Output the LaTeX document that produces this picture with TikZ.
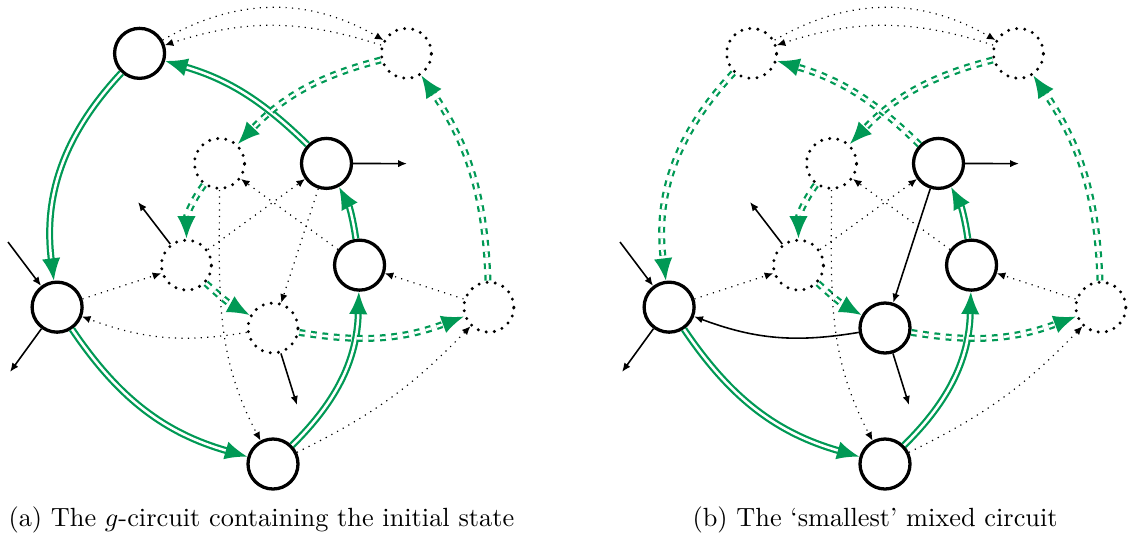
\documentclass[tikz,border=0pt]{standalone}
\usetikzlibrary{arrows.meta}
\definecolor{gr}{RGB}{0,153,85}
\tikzset{
 solidst/.style={circle, draw, line width=1.25pt, minimum size=19pt, inner sep=0pt},
 dotst/.style={circle, draw, line width=1.25pt, minimum size=19pt, inner sep=0pt, dash pattern=on 0pt off 3.12pt, line cap=round},
 gs/.style={draw=gr, double=white, line width=0.85pt, double distance=0.95pt, -{Latex[length=8.5pt,width=7pt]}},
 gd/.style={gs, dash pattern=on 2.2pt off 2.2pt},
 dt/.style={line width=0.45pt, dotted, -{Latex[length=3.2pt,width=2.8pt]}},
 sl/.style={line width=0.6pt, -{Latex[length=3.4pt,width=2.8pt]}},
}
\begin{document}
\begin{tikzpicture}[x=0.38pt,y=0.38pt]
\useasboundingbox (0,0) rectangle (1129,-539);
% ---------- panel (a)
\begin{scope}[shift={(273,-237)}]
\node[solidst] (aA) at (126:227) {};
\node[dotst]   (aB) at (54:227) {};
\node[dotst]   (aI) at (-18:227) {};
\node[solidst] (aJ) at (-90:227) {};
\node[solidst] (aG) at (-162:227) {};
\node[dotst]   (aC) at (126:91) {};
\node[solidst] (aD) at (54:91) {};
\node[solidst] (aF) at (-18:91) {};
\node[dotst]   (aH) at (-90:91) {};
\node[dotst]   (aE) at (-162:91) {};
\coordinate (aginp) at (-265,-5);
\coordinate (agout) at (-263,-135);
\coordinate (aeout) at (-135,35);
\coordinate (adout) at (134,73.4);
\coordinate (ahout) at (24,-168);
\end{scope}
\draw[gs] (aA) to[bend right=25] (aG);
\draw[gs] (aG) to[bend right=20] (aJ);
\draw[gs] (aJ) to[bend right=22] (aF);
\draw[gs] (aF) to[bend right=10] (aD);
\draw[gs] (aD) to[bend right=14] (aA);
\draw[gd] (aB) to[bend right=16] (aC);
\draw[gd] (aC) to[bend right=18] (aE);
\draw[gd] (aE) to[bend right=7] (aH);
\draw[gd] (aH) to[bend right=15] (aI);
\draw[gd] (aI) to[bend right=16] (aB);
\draw[dt] (aA) to[bend left=30] (aB);
\draw[dt] (aB) to[bend right=18] (aA);
\draw[dt] (aG) -- (aE);
\draw[dt] (aH) to[bend left=15] (aG);
\draw[dt] (aC) to[out=-90,in=118] (aJ);
\draw[dt] (aE) -- (aD);
\draw[dt] (aF) -- (aC);
\draw[dt] (aD) -- (aH);
\draw[dt] (aI) -- (aF);
\draw[dt] (aJ) to[bend right=10] (aI);
\draw[sl] (aginp) -- (aG);
\draw[sl] (aG) -- (agout);
\draw[sl] (aE) -- (aeout);
\draw[sl] (aD) -- (adout);
\draw[sl] (aH) -- (ahout);
% ---------- panel (b)
\begin{scope}[shift={(885,-237)}]
\node[dotst]   (bA) at (126:227) {};
\node[dotst]   (bB) at (54:227) {};
\node[dotst]   (bI) at (-18:227) {};
\node[solidst] (bJ) at (-90:227) {};
\node[solidst] (bG) at (-162:227) {};
\node[dotst]   (bC) at (126:91) {};
\node[solidst] (bD) at (54:91) {};
\node[solidst] (bF) at (-18:91) {};
\node[solidst] (bH) at (-90:91) {};
\node[dotst]   (bE) at (-162:91) {};
\coordinate (bginp) at (-265,-5);
\coordinate (bgout) at (-263,-135);
\coordinate (beout) at (-135,35);
\coordinate (bdout) at (134,73.4);
\coordinate (bhout) at (24,-168);
\end{scope}
\draw[gd] (bA) to[bend right=25] (bG);
\draw[gs] (bG) to[bend right=20] (bJ);
\draw[gs] (bJ) to[bend right=22] (bF);
\draw[gs] (bF) to[bend right=10] (bD);
\draw[gd] (bD) to[bend right=14] (bA);
\draw[gd] (bB) to[bend right=16] (bC);
\draw[gd] (bC) to[bend right=18] (bE);
\draw[gd] (bE) to[bend right=7] (bH);
\draw[gd] (bH) to[bend right=15] (bI);
\draw[gd] (bI) to[bend right=16] (bB);
\draw[dt] (bA) to[bend left=30] (bB);
\draw[dt] (bB) to[bend right=18] (bA);
\draw[dt] (bG) -- (bE);
\draw[sl] (bH) to[bend left=15] (bG);
\draw[dt] (bC) to[out=-90,in=118] (bJ);
\draw[dt] (bE) -- (bD);
\draw[dt] (bF) -- (bC);
\draw[sl] (bD) -- (bH);
\draw[dt] (bI) -- (bF);
\draw[dt] (bJ) to[bend right=10] (bI);
\draw[sl] (bginp) -- (bG);
\draw[sl] (bG) -- (bgout);
\draw[sl] (bE) -- (beout);
\draw[sl] (bD) -- (bdout);
\draw[sl] (bH) -- (bhout);
% captions
\node[anchor=base west, inner sep=0pt] (capa) at (8,-526) {(a) The $g$-circuit containing the initial state};
\node[anchor=base west, inner sep=0pt] (capb) at (692,-526) {(b) The `smallest' mixed circuit};
\end{tikzpicture}
\end{document}
